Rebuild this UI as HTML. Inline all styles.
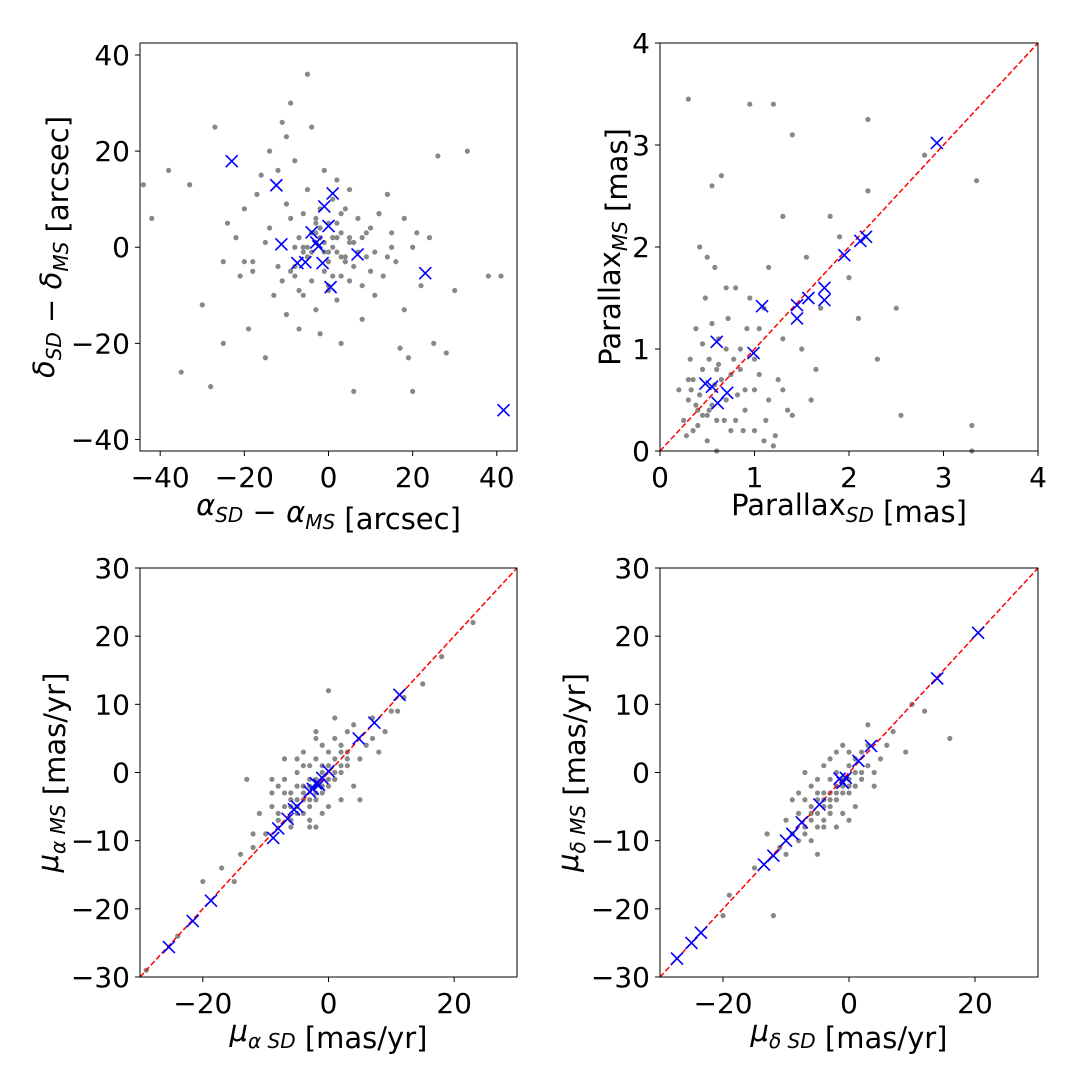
<!DOCTYPE html>
<html><head><meta charset="utf-8"><style>
html,body{margin:0;padding:0;background:#fff;}
svg text{font-family:"DejaVu Sans","Liberation Sans",sans-serif;fill:#000;}
</style></head><body>
<svg id="fig" width="1080" height="1080" xmlns="http://www.w3.org/2000/svg"></svg>
<script>
// ---------- Panel data ----------
const p1GrayX=[-44,-42,-38,-35,-33,-30,-28,-27,-25,-24,-22,-21,-20,-19,-18,-17,-16,-15,-14,-13,-12,-12,-11,-10,-10,-9,-9,-8,-8,-7,-7,-6,-6,-5,-5,-5,-4,-4,-3,-3,-2,-2,-1,-1,0,0,1,1,2,2,3,3,4,4,5,5,6,6,7,8,9,10,11,12,13,14,15,16,17,18,19,20,21,22,24,25,26,28,30,33,38,41,-6,-4,-2,2,4,-8,8,-14,14,-3,3,0,-10,10,-18,18,-25,12,-7,-5,-3,-1,1,3,5,7,-6,-2,2,6,-9,-4,0,4,9,-1,1,-3,3,-11,11,-15,15,-20,20,-5,5,-8,8,0,-2,2];
const p1GrayY=[13,6,16,-26,13,-12,-29,25,-20,5,2,-6,8,-17,-3,11,15,-23,20,-10,-4,16,26,23,-14,6,30,-6,18,-17,2,-10,7,36,-2,12,-7,25,3,-13,-18,8,-5,16,5,-8,0,10,-11,14,3,-20,-3,8,-7,12,1,-30,6,-15,-2,4,-10,7,-6,11,0,-3,-21,6,-23,-30,3,-8,2,-20,19,-22,-9,20,-6,-6,-1,-1,2,2,-3,0,2,4,-2,5,-6,-1,9,-5,-5,-13,-3,7,-9,0,1,-1,2,-2,1,-1,0,4,5,-4,-5,3,-3,-2,3,1,-6,6,7,-7,-1,1,3,-3,0,-2,2,-4,-8,-9,4,-1];
const p1BlueX=[-23,-12.4,-11.2,-7.4,-5.5,-4,-2.9,-2.4,-1.4,-1,0,1,0.5,6.9,23,41.6];
const p1BlueY=[17.9,12.9,0.6,-3.3,-3.1,3.1,1,0.2,-3.3,8.5,4.4,11.2,-8.3,-1.5,-5.4,-33.9];

const p2GrayX=[0.2,0.25,0.3,0.32,0.35,0.38,0.4,0.42,0.45,0.48,0.5,0.52,0.55,0.58,0.6,0.62,0.65,0.7,0.72,0.75,0.8,0.85,0.9,0.95,1.0,1.05,1.1,1.15,1.2,1.25,1.3,1.35,1.4,1.5,1.6,1.7,1.8,1.9,2.0,2.1,2.2,2.3,2.5,2.8,3.3,3.35,0.3,0.35,0.5,0.6,0.7,0.9,1.0,1.2,0.55,0.65,0.75,0.85,0.4,0.45,0.33,0.28,0.6,1.3,1.55,2.2,2.55,3.3,0.5,0.7,0.8,0.95,1.1,1.0,1.15,1.4,0.38,0.42,0.52,0.58,0.68,0.78,0.88,1.05,1.12,1.22,0.45,0.62,0.82,0.92,1.3,1.65,0.3,0.55];
const p2GrayY=[0.6,0.3,3.45,0.9,0.2,1.2,0.4,2.0,0.8,1.5,0.1,0.9,2.6,1.8,0.3,1.1,2.7,0.5,1.3,0.2,1.6,0.8,0.4,3.4,0.6,1.2,0.1,1.8,3.4,0.7,2.3,0.4,3.1,1.0,0.5,1.4,2.3,2.1,1.7,1.3,2.55,0.9,1.4,2.9,0.25,2.65,0.5,0.7,0.35,0.8,1.0,0.6,0.9,0.05,1.25,0.7,0.75,1.0,0.25,1.05,0.6,0.15,0.0,1.1,1.9,3.25,0.35,0.0,1.9,1.6,0.3,1.5,1.4,0.2,0.5,0.35,0.45,0.55,0.4,0.65,0.3,0.9,0.2,0.75,0.3,0.15,0.35,0.85,0.55,1.2,0.6,0.8,0.7,0.45];
const p2BlueX=[2.93,2.18,2.12,1.95,1.74,1.74,1.57,1.45,1.45,1.08,0.99,0.6,0.48,0.55,0.71,0.61];
const p2BlueY=[3.02,2.1,2.06,1.92,1.6,1.48,1.5,1.43,1.3,1.42,0.96,1.07,0.66,0.63,0.57,0.47];

const p3GrayX=[-29,-24,-20,-17,-15,-14,-13,-12,-11,-10,-9,-9,-8,-8,-7,-7,-6,-6,-5,-5,-5,-4,-4,-4,-3,-3,-3,-2,-2,-2,-1,-1,-1,0,0,0,1,1,1,2,2,3,3,4,4,5,6,7,8,9,10,11,12,15,18,23,-6,-3,-1,2,-4,-2,0,3,-7,1,-5,-2,2,-12,5,7,-9,-3,-6,-4,-2,0,2,-5,-3,-1,1,3,-8,-6,-4,-2,0,-3,-1,1,-7,-5];
const p3GrayY=[-29,-24,-16,-14,-16,-12,-1,-9,-6,-9,-5,-3,-7,-2,-5,-1,-7,-3,-4,0,2,-6,-2,3,-8,-1,1,-4,2,5,-3,0,4,-2,3,12,-1,2,8,0,4,1,3,-2,7,2,4,5,3,6,9,9,11,13,17,22,-8,-4,-6,-4,1,-8,-5,6,2,5,-5,6,3,-11,-4,8,-1,-7,-4,-3,-1,1,1,-6,-5,-2,0,2,-6,-5,-4,-3,-1,-2,1,-1,-3,-2];
const p3BlueX=[-25.4,-21.6,-18.7,-8.8,-8,-6.5,-5.5,-5,-3,-2.5,-2,-1.5,-1,0,4.8,7.3,11.3];
const p3BlueY=[-25.6,-21.8,-18.8,-9.6,-8.2,-6.8,-5.4,-5.0,-2.8,-2.4,-1.6,-1.8,-0.8,0.2,5.0,7.3,11.4];

const p4GrayX=[-20,-19,-15,-13,-12,-11,-10,-9,-9,-8,-8,-7,-7,-6,-6,-5,-5,-5,-4,-4,-4,-3,-3,-3,-2,-2,-2,-1,-1,-1,0,0,0,1,1,2,2,3,3,4,5,6,7,9,10,12,16,-6,-4,-2,1,-8,-3,0,2,-10,-5,3,-7,-1,4,-6,-5,-4,-3,-2,-1,0,1,-7,-5,-3,-1,-4,-2,0,-6,-3];
const p4GrayY=[-21,-18,-14,-9,-21,-11,-7,-9,-4,-6,-3,-9,-4,-6,-2,-8,-4,-1,-7,-3,1,-5,-1,2,-4,0,3,-6,-1,4,-3,1,3,-2,2,-1,3,1,4,0,2,4,6,3,10,9,5,-10,-8,-8,-5,-10,-6,-7,0,-12,-12,7,0,-3,-2,-5,-6,-4,-3,-2,-2,-1,0,-8,-3,-4,-1,-5,-3,-2,-7,-6];
const p4BlueX=[-27.3,-25,-23.5,-13.5,-12,-10,-9,-7.5,-4.7,-1.5,-1,-0.5,1.5,3.5,14,20.5];
const p4BlueY=[-27.3,-25.0,-23.5,-13.5,-12.2,-10,-9,-7.3,-4.7,-0.9,-1.5,-0.8,1.7,3.9,13.8,20.5];

// ---------- Drawing ----------
const NS="http://www.w3.org/2000/svg";
const svg=document.getElementById('fig');
function mk(tag,attrs,parent){const e=document.createElementNS(NS,tag);for(const k in attrs)e.setAttribute(k,attrs[k]);(parent||svg).appendChild(e);return e;}

function panel(cfg){
  const g=mk('g',{});
  
  
  const sx=v=>cfg.x0+(v-cfg.xmin)/(cfg.xmax-cfg.xmin)*(cfg.x1-cfg.x0);
  const sy=v=>cfg.y1-(v-cfg.ymin)/(cfg.ymax-cfg.ymin)*(cfg.y1-cfg.y0);
  const inR=(x,y)=>Number.isFinite(x)&&Number.isFinite(y)&&x>=cfg.xmin&&x<=cfg.xmax&&y>=cfg.ymin&&y<=cfg.ymax;
  const ng=Math.min(cfg.gx.length,cfg.gy.length);
  for(let i=0;i<ng;i++){
    if(!inR(cfg.gx[i],cfg.gy[i]))continue;
    const c=mk('circle',{cx:sx(cfg.gx[i]),cy:sy(cfg.gy[i]),r:2.6,fill:'#888888'},g);
    
    
  }
  if(cfg.diag){
    const l=mk('line',{x1:sx(cfg.xmin),y1:sy(cfg.xmin),x2:sx(cfg.xmax),y2:sy(cfg.xmax),stroke:'#ff0000','stroke-width':1.5,'stroke-dasharray':'5.5,2.5'},g);
    
    
  }
  const nb=Math.min(cfg.bx.length,cfg.by.length);
  for(let i=0;i<nb;i++){
    if(!inR(cfg.bx[i],cfg.by[i]))continue;
    const cx=sx(cfg.bx[i]),cy=sy(cfg.by[i]),s=6;
    const m=mk('path',{d:`M${cx-s},${cy-s}L${cx+s},${cy+s}M${cx-s},${cy+s}L${cx+s},${cy-s}`,stroke:'#0000ff','stroke-width':1.6,fill:'none'},g);
    
    
  }
  const fr=mk('rect',{x:cfg.x0,y:cfg.y0,width:cfg.x1-cfg.x0,height:cfg.y1-cfg.y0,fill:'none',stroke:'#000','stroke-width':1},g);
  
  
  cfg.xt.forEach(v=>{
    const x=sx(v);
    mk('line',{x1:x,y1:cfg.y1,x2:x,y2:cfg.y1+5,stroke:'#000'},g);
    const t=mk('text',{x:x,y:cfg.y1+36,'text-anchor':'middle','font-size':28},g);
    t.textContent=(v<0?'\u2212'+(-v):String(v));
    
    
  });
  cfg.yt.forEach(v=>{
    const y=sy(v);
    mk('line',{x1:cfg.x0-5,y1:y,x2:cfg.x0,y2:y,stroke:'#000'},g);
    const t=mk('text',{x:cfg.x0-10,y:y+10,'text-anchor':'end','font-size':28},g);
    t.textContent=(v<0?'\u2212'+(-v):String(v));
    
    
  });
  const xl=mk('text',{x:(cfg.x0+cfg.x1)/2,y:cfg.y1+64,'text-anchor':'middle','font-size':29},g);
  xl.innerHTML=cfg.xlabel;
  
  
  const yx=cfg.ylx,yy=(cfg.y0+cfg.y1)/2;
  const yl=mk('text',{x:yx,y:yy,'text-anchor':'middle','font-size':29,transform:`rotate(-90 ${yx} ${yy})`},g);
  yl.innerHTML=cfg.ylabel;
  
  
}
const sub=s=>`<tspan font-size="20" dy="7" font-style="italic">${s}</tspan><tspan dy="-7"></tspan>`;
panel({name:'position-offset-panel',x0:140,x1:517,y0:43,y1:451,xmin:-44.8,xmax:44.8,ymin:-42.4,ymax:42.5,
  gx:p1GrayX,gy:p1GrayY,bx:p1BlueX,by:p1BlueY,diag:false,xt:[-40,-20,0,20,40],yt:[-40,-20,0,20,40],
  xlabel:`<tspan font-style="italic">α</tspan>${sub('SD')} − <tspan font-style="italic">α</tspan>${sub('MS')} [arcsec]`,
  ylabel:`<tspan font-style="italic">δ</tspan>${sub('SD')} − <tspan font-style="italic">δ</tspan>${sub('MS')} [arcsec]`,ylx:54});
panel({name:'parallax-panel',x0:660,x1:1038,y0:43,y1:451,xmin:0,xmax:4,ymin:0,ymax:4,
  gx:p2GrayX,gy:p2GrayY,bx:p2BlueX,by:p2BlueY,diag:true,xt:[0,1,2,3,4],yt:[0,1,2,3,4],
  xlabel:`Parallax${sub('SD')} [mas]`,ylabel:`Parallax${sub('MS')} [mas]`,ylx:620});
panel({name:'pm-ra-panel',x0:140,x1:517,y0:568,y1:977,xmin:-30,xmax:30,ymin:-30,ymax:30,
  gx:p3GrayX,gy:p3GrayY,bx:p3BlueX,by:p3BlueY,diag:true,xt:[-20,0,20],yt:[-30,-20,-10,0,10,20,30],
  xlabel:`<tspan font-style="italic">μ</tspan>${sub('α SD')} [mas/yr]`,ylabel:`<tspan font-style="italic">μ</tspan>${sub('α MS')} [mas/yr]`,ylx:58});
panel({name:'pm-dec-panel',x0:660,x1:1038,y0:568,y1:977,xmin:-30,xmax:30,ymin:-30,ymax:30,
  gx:p4GrayX,gy:p4GrayY,bx:p4BlueX,by:p4BlueY,diag:true,xt:[-20,0,20],yt:[-30,-20,-10,0,10,20,30],
  xlabel:`<tspan font-style="italic">μ</tspan>${sub('δ SD')} [mas/yr]`,ylabel:`<tspan font-style="italic">μ</tspan>${sub('δ MS')} [mas/yr]`,ylx:578});
</script>
</body></html>
